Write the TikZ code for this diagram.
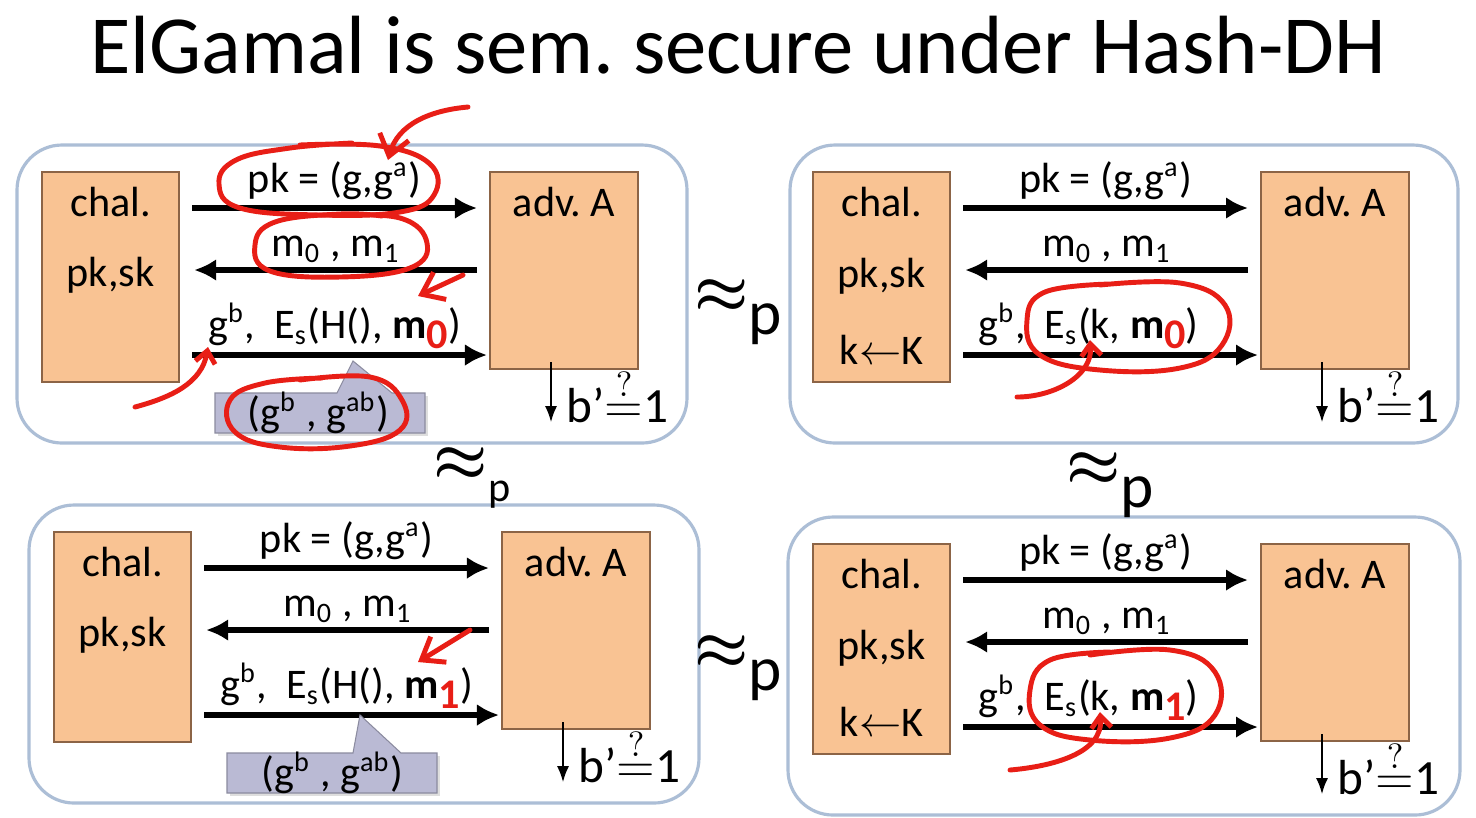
\documentclass[tikz,border=0pt]{standalone}
\usepackage{fontspec}
\setmainfont{Carlito}
\usetikzlibrary{positioning,arrows.meta,calc}
\definecolor{partyc}{RGB}{249,195,147}
\definecolor{partyd}{RGB}{140,100,70}
\definecolor{panelc}{RGB}{172,190,214}
\definecolor{notec}{RGB}{186,186,212}
\definecolor{inkc}{RGB}{232,30,22}
\frenchspacing

\begin{document}
\begin{tikzpicture}[x=0.01cm, y=-0.01cm, >=Latex,
  panel/.style={draw=panelc,line width=0.9pt,rounded corners=0.45cm,fill=white},
  party/.style={draw=partyd,fill=partyc,line width=0.6pt,anchor=north west,inner sep=0pt,
    minimum width=1.37cm,minimum height=2.1cm},
  advbox/.style={party,minimum width=1.48cm,minimum height=1.97cm},
  txt/.style={font=\fontsize{12}{14}\selectfont,inner sep=0pt},
  msg/.style={line width=1.6pt,-{Latex[length=2.2mm,width=2.2mm]}},
  note/.style={fill=notec,draw=notec!75!black,line width=0.3pt},
  shade/.style={fill=black!13,draw=none},
  guess/.style={font=\fontsize{14}{16}\selectfont,inner sep=0pt,anchor=base west},
  ink/.style={draw=inkc,line width=1.4pt,line cap=round,line join=round},
  apx/.style={font=\fontsize{18}{20}\selectfont,inner sep=0pt}]
  \useasboundingbox[fill=white] (0,0) rectangle (1476,817);
  \node[font=\fontsize{23.5}{27}\selectfont] (title) at (738,45) {ElGamal is sem. secure under Hash-DH};

  % top left game: H(), m0
  \begin{scope}[name prefix=g1-]
    \draw[panel] (17,145) rectangle (687,443);
    \node[party] (ch) at (41,171) {};
    \node[advbox] (ad) at (489,171) {};
    \node[txt] (chal) at ($(ch.north)+(0,31)$) {chal.};
    \node[txt] (keys) at ($(ch.north)+(0,104)$) {pk,sk};
    \node[txt] (adv) at ($(ad.north)+(0,31)$) {adv. A};
    \draw[msg] ($(ch.north east)+(12,37)$) -- ($(ad.north west)+(-12,37)$)
      node[txt,midway,anchor=base,yshift=0.16cm] (pk) {pk = (g,g\textsuperscript{a})};
    \draw[msg] ($(ad.north west)+(-12,99)$) -- ($(ch.north east)+(14,99)$)
      node[txt,midway,anchor=base,yshift=0.14cm] (ms) {m\textsubscript{0} , m\textsubscript{1}};
    \draw[msg] ($(ch.north east)+(12,184)$) -- ($(ad.north west)+(-2,184)$)
      node[txt,midway,anchor=base,yshift=0.17cm,xshift=-0.05cm] (ct) {g\textsuperscript{b},\ \ E\textsubscript{s}(H(), \textbf{m}{\color{inkc}\bfseries\raisebox{-0.5ex}{0}})};
    \fill[shade] (218,396) rectangle (428,436);
    \draw[note] (215,393) -- (337,393) -- (353,361) -- (392,393) -- (425,393) -- (425,433) -- (215,433) -- cycle;
    \node[txt] (ky) at (318,413) {(g\textsuperscript{b} , g\textsuperscript{ab})};
    \coordinate (bo) at ($(ad.south west)+(62,-8)$);
    \coordinate (be) at ($(ad.south west)+(62,52)$);
    \draw[line width=0.6pt,-{Latex[length=1.6mm,width=1.2mm]}] (bo) -- (be);
    \node[guess] (bq) at ($(be)+(15,0)$) {b’$\stackrel{?}{=}$1};
  \end{scope}

  % top right game: k, m0
  \begin{scope}[shift={(771,0)},name prefix=g2-]
    \draw[panel] (19,145) rectangle (687,443);
    \node[party] (ch) at (41,171) {};
    \node[advbox] (ad) at (489,171) {};
    \node[txt] (chal) at ($(ch.north)+(0,31)$) {chal.};
    \node[txt] (keys) at ($(ch.north)+(0,105)$) {pk,sk};
    \node[txt] (kk) at ($(ch.north)+(0,179)$) {k$\leftarrow$K};
    \node[txt] (adv) at ($(ad.north)+(0,31)$) {adv. A};
    \draw[msg] ($(ch.north east)+(12,37)$) -- ($(ad.north west)+(-12,37)$)
      node[txt,midway,anchor=base,yshift=0.16cm] (pk) {pk = (g,g\textsuperscript{a})};
    \draw[msg] ($(ad.north west)+(-12,99)$) -- ($(ch.north east)+(14,99)$)
      node[txt,midway,anchor=base,yshift=0.14cm] (ms) {m\textsubscript{0} , m\textsubscript{1}};
    \draw[msg] ($(ch.north east)+(12,184)$) -- ($(ad.north west)+(-2,184)$)
      node[txt,midway,anchor=base,yshift=0.17cm,xshift=-0.22cm] (ct) {g\textsuperscript{b},\ \ E\textsubscript{s}(k, \textbf{m}{\color{inkc}\bfseries\raisebox{-0.5ex}{0}})};
    \coordinate (bo) at ($(ad.south west)+(62,-8)$);
    \coordinate (be) at ($(ad.south west)+(62,52)$);
    \draw[line width=0.6pt,-{Latex[length=1.6mm,width=1.2mm]}] (bo) -- (be);
    \node[guess] (bq) at ($(be)+(15,0)$) {b’$\stackrel{?}{=}$1};
  \end{scope}

  % bottom left game: H(), m1
  \begin{scope}[shift={(12,360)},name prefix=g3-]
    \draw[panel] (17,145) rectangle (687,443);
    \node[party] (ch) at (41,171) {};
    \node[advbox] (ad) at (489,171) {};
    \node[txt] (chal) at ($(ch.north)+(0,31)$) {chal.};
    \node[txt] (keys) at ($(ch.north)+(0,104)$) {pk,sk};
    \node[txt] (adv) at ($(ad.north)+(0,31)$) {adv. A};
    \draw[msg] ($(ch.north east)+(12,37)$) -- ($(ad.north west)+(-12,37)$)
      node[txt,midway,anchor=base,yshift=0.16cm] (pk) {pk = (g,g\textsuperscript{a})};
    \draw[msg] ($(ad.north west)+(-12,99)$) -- ($(ch.north east)+(14,99)$)
      node[txt,midway,anchor=base,yshift=0.14cm] (ms) {m\textsubscript{0} , m\textsubscript{1}};
    \draw[msg] ($(ch.north east)+(12,184)$) -- ($(ad.north west)+(-2,184)$)
      node[txt,midway,anchor=base,yshift=0.17cm,xshift=-0.05cm] (ct) {g\textsuperscript{b},\ \ E\textsubscript{s}(H(), \textbf{m}{\color{inkc}\bfseries\raisebox{-0.5ex}{1}})};
    \fill[shade] (218,396) rectangle (428,436);
    \draw[note] (215,393) -- (341,393) -- (348,355) -- (389,393) -- (425,393) -- (425,433) -- (215,433) -- cycle;
    \node[txt] (ky) at (320,413) {(g\textsuperscript{b} , g\textsuperscript{ab})};
    \coordinate (bo) at ($(ad.south west)+(62,-8)$);
    \coordinate (be) at ($(ad.south west)+(62,52)$);
    \draw[line width=0.6pt,-{Latex[length=1.6mm,width=1.2mm]}] (bo) -- (be);
    \node[guess] (bq) at ($(be)+(15,0)$) {b’$\stackrel{?}{=}$1};
  \end{scope}

  % bottom right game: k, m1
  \begin{scope}[shift={(771,372)},name prefix=g4-]
    \draw[panel] (17,145) rectangle (689,443);
    \node[party] (ch) at (41,171) {};
    \node[advbox] (ad) at (489,171) {};
    \node[txt] (chal) at ($(ch.north)+(0,31)$) {chal.};
    \node[txt] (keys) at ($(ch.north)+(0,105)$) {pk,sk};
    \node[txt] (kk) at ($(ch.north)+(0,179)$) {k$\leftarrow$K};
    \node[txt] (adv) at ($(ad.north)+(0,31)$) {adv. A};
    \draw[msg] ($(ch.north east)+(12,37)$) -- ($(ad.north west)+(-12,37)$)
      node[txt,midway,anchor=base,yshift=0.16cm] (pk) {pk = (g,g\textsuperscript{a})};
    \draw[msg] ($(ad.north west)+(-12,99)$) -- ($(ch.north east)+(14,99)$)
      node[txt,midway,anchor=base,yshift=0.14cm] (ms) {m\textsubscript{0} , m\textsubscript{1}};
    \draw[msg] ($(ch.north east)+(12,184)$) -- ($(ad.north west)+(-2,184)$)
      node[txt,midway,anchor=base,yshift=0.17cm,xshift=-0.22cm] (ct) {g\textsuperscript{b},\ \ E\textsubscript{s}(k, \textbf{m}{\color{inkc}\bfseries\raisebox{-0.5ex}{1}})};
    \coordinate (bo) at ($(ad.south west)+(62,-8)$);
    \coordinate (be) at ($(ad.south west)+(62,52)$);
    \draw[line width=0.6pt,-{Latex[length=1.6mm,width=1.2mm]}] (bo) -- (be);
    \node[guess] (bq) at ($(be)+(15,0)$) {b’$\stackrel{?}{=}$1};
  \end{scope}

  % indistinguishability signs
  \node[apx] (e12) at (738,312) {{\boldmath$\approx$}\raisebox{-0.75ex}{p}};
  \node[apx,font=\fontsize{16}{18}\selectfont] (e13) at (472,478) {{\boldmath$\approx$}\raisebox{-0.8ex}{\fontsize{12}{12}\selectfont p}};
  \node[apx] (e24) at (1110,485) {{\boldmath$\approx$}\raisebox{-0.75ex}{p}};
  \node[apx] (e34) at (738,668) {{\boldmath$\approx$}\raisebox{-0.75ex}{p}};

  % red pen marks
  \draw[ink] plot[smooth,tension=0.7] coordinates {(300,145) (380,146) (430,164) (434,195) (400,212) (320,215) (240,208) (219,184) (236,160) (290,148) (352,143)};
  \draw[ink,-{Straight Barb[length=2mm,width=3mm]}] (468,107) to[out=185,in=75] (388,160);
  \draw[ink] plot[smooth,tension=0.7] coordinates {(330,215) (400,218) (427,243) (410,268) (340,277) (270,271) (255,245) (275,222) (340,214) (382,216)};
  \draw[ink,-{Straight Barb[length=2mm,width=3mm]}] (463,275) -- (418,296);
  \draw[ink,-{Straight Barb[length=1.2mm,width=2mm]}] (135,407) to[out=15,in=-100] (208,347);
  \draw[ink] plot[smooth,tension=0.7] coordinates {(300,380) (370,377) (402,400) (400,430) (350,446) (280,447) (235,432) (230,400) (265,383) (322,378)};
  \draw[ink] plot[smooth,tension=0.7] coordinates {(1100,285) (1180,283) (1225,305) (1222,345) (1180,368) (1100,370) (1040,355) (1027,320) (1045,292) (1110,284)};
  \draw[ink,-{Straight Barb[length=1.2mm,width=2mm]}] (1017,397) to[out=0,in=-85] (1090,340);
  \draw[ink,-{Straight Barb[length=2mm,width=3mm]}] (470,630) -- (418,662);
  \draw[ink] plot[smooth,tension=0.7] coordinates {(1090,655) (1170,650) (1215,672) (1215,715) (1170,738) (1090,740) (1040,725) (1030,690) (1050,660) (1110,652)};
  \draw[ink,-{Straight Barb[length=1.2mm,width=2mm]}] (1010,770) to[out=5,in=-85] (1100,712);
\end{tikzpicture}
\end{document}
